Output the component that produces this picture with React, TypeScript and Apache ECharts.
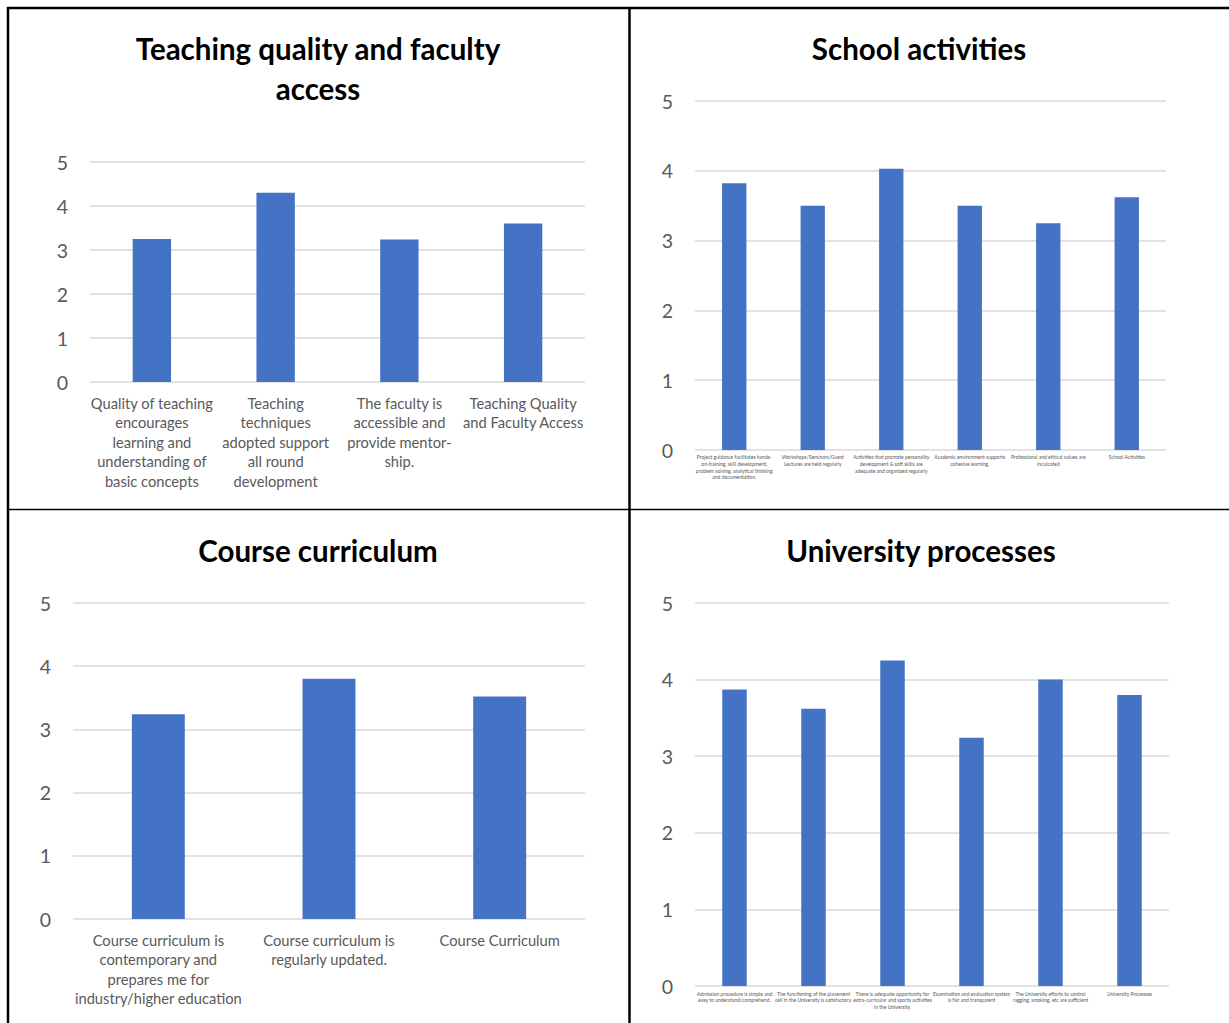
import React, { useEffect, useRef } from "react";
import * as echarts from "echarts";

const teachingCategories = [
  "Quality of teaching\nencourages\nlearning and\nunderstanding of\nbasic concepts",
  "Teaching\ntechniques\nadopted support\nall round\ndevelopment",
  "The faculty is\naccessible and\nprovide mentor-\nship.",
  "Teaching Quality\nand Faculty Access",
];
const teachingValues = [3.25, 4.3, 3.24, 3.6];

const activityCategories = [
  "Project guidance facilitates hands-\non-training, skill development,\nproblem solving, analytical thinking\nand documentation.",
  "Workshops/Seminars/Guest\nLectures are held regularly",
  "Activities that promote personality\ndevelopment & soft skills are\nadequate and organized regularly",
  "Academic environment supports\ncohesive learning.",
  "Professional and ethical values are\ninculcated",
  "School Activities",
];
const activityValues = [3.82, 3.5, 4.03, 3.5, 3.25, 3.62];

const curriculumCategories = [
  "Course curriculum is\ncontemporary and\nprepares me for\nindustry/higher education",
  "Course curriculum is\nregularly updated.",
  "Course Curriculum",
];
const curriculumValues = [3.24, 3.8, 3.52];

const processCategories = [
  "Admission procedure is simple and\neasy to understand/comprehend.",
  "The functioning of the placement\ncell in the University is satisfactory.",
  "There is adequate opportunity for\nextra-curricular and sports activities\nin the University.",
  "Examination and evaluation system\nis fair and transparent",
  "The University efforts to control\nragging, smoking, etc are sufficient",
  "University Processes",
];
const processValues = [3.87, 3.62, 4.25, 3.24, 4.0, 3.8];

const yTicks = [0, 1, 2, 3, 4, 5];

const FONT = "Lato, 'Open Sans', sans-serif";
const BAR = "#4472C4";
const GRID = "#d9d9d9";
const LABEL = "#595959";

export default function App() {
  const ref = useRef<HTMLDivElement>(null);

  useEffect(() => {
    if (!ref.current) return;
    const chart = echarts.init(ref.current, undefined, { renderer: "svg" });

    const panels = [
      { cats: teachingCategories, vals: teachingValues, grid: { left: 90, top: 162, width: 495, height: 220 }, xFont: 14.7, xLine: 19.5, xMargin: 11 },
      { cats: activityCategories, vals: activityValues, grid: { left: 695, top: 101, width: 471, height: 349 }, xFont: 5, xLine: 6.6, xMargin: 4 },
      { cats: curriculumCategories, vals: curriculumValues, grid: { left: 73, top: 603, width: 512, height: 316 }, xFont: 14.7, xLine: 19.5, xMargin: 11 },
      { cats: processCategories, vals: processValues, grid: { left: 695, top: 603, width: 474, height: 383 }, xFont: 5, xLine: 6.2, xMargin: 5 },
    ];

    const titles = [
      { text: "Teaching quality and faculty\naccess", left: 313, top: 23 },
      { text: "School activities", left: 914, top: 23 },
      { text: "Course curriculum", left: 313, top: 525 },
      { text: "University processes", left: 916, top: 525 },
    ];

    const line = (x1: number, y1: number, x2: number, y2: number, w: number) => ({
      type: "line",
      shape: { x1, y1, x2, y2 },
      style: { stroke: "#000", lineWidth: w },
      silent: true,
    });

    chart.setOption({
      animation: false,
      backgroundColor: "#fff",
      title: titles.map((t) => ({
        text: t.text,
        left: t.left,
        top: t.top,
        textAlign: "center",
        textStyle: { fontFamily: FONT, fontWeight: "bold", fontSize: 29.5, lineHeight: 40, color: "#000" },
      })),
      grid: panels.map((p) => ({ ...p.grid, containLabel: false })),
      xAxis: panels.map((p, i) => ({
        type: "category",
        gridIndex: i,
        data: p.cats,
        axisLine: { show: false },
        axisTick: { show: false },
        axisLabel: {
          interval: 0,
          hideOverlap: false,
          color: LABEL,
          fontFamily: FONT,
          fontSize: p.xFont,
          lineHeight: p.xLine,
          margin: p.xMargin,
          align: "center",
        },
      })),
      yAxis: panels.map((p, i) => ({
        type: "value",
        gridIndex: i,
        min: yTicks[0],
        max: yTicks[yTicks.length - 1],
        interval: 1,
        axisLine: { show: false },
        axisTick: { show: false },
        axisLabel: { color: LABEL, fontFamily: FONT, fontSize: 19.5, margin: 22 },
        splitLine: { lineStyle: { color: GRID, width: 1.5 } },
      })),
      series: panels.map((p, i) => ({
        type: "bar",
        xAxisIndex: i,
        yAxisIndex: i,
        data: p.vals,
        barWidth: "31%",
        itemStyle: { color: BAR },
      })),
      graphic: [
        line(7, 8, 1229, 8, 2.5),
        line(8, 7, 8, 1023, 2.5),
        line(629.5, 8, 629.5, 1023, 2.5),
        line(8, 509.5, 1229, 509.5, 1.5),
      ],
    });

    return () => chart.dispose();
  }, []);

  return (
    <div
      ref={ref}
      style={{ position: "absolute", left: 0, top: 0, width: 1229, height: 1023, background: "#fff" }}
    />
  );
}
